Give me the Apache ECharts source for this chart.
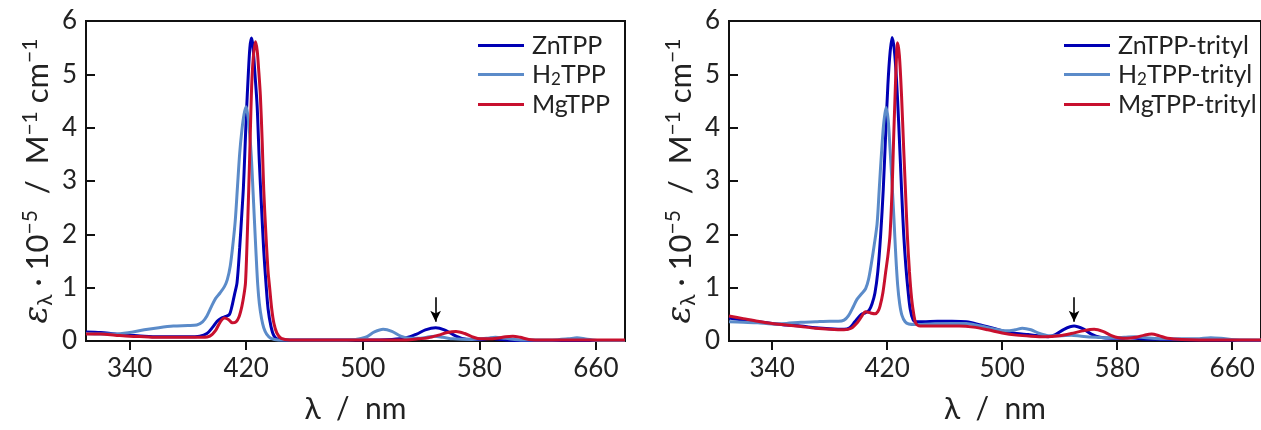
<!DOCTYPE html>
<html><head><meta charset="utf-8">
<script src="https://cdn.jsdelivr.net/npm/echarts@6/dist/echarts.min.js"></script>
<style>html,body{margin:0;padding:0;background:#fff}#c{width:1261px;height:430px}</style>
</head><body><div id="c"></div>
<script>
// ---- data ----
const xTicks = [340, 420, 500, 580, 660];
const xRange = [310, 680];
const yRange = [0, 6];
const arrowMark = [550, 0.82, 0.36];

const znTPP = [[310,0.17],[320,0.16],[330,0.13],[340,0.11],[350,0.09],[360,0.08],[370,0.08],[380,0.08],[388,0.09],[393,0.14],[397,0.26],[400,0.37],[403,0.43],[406,0.46],[408.5,0.5],[410,0.63],[412,0.88],[413.7,1.1],[415.5,1.75],[417,2.4],[418,2.85],[419,3.5],[420,4.2],[421.5,5.05],[422.5,5.5],[423.5,5.68],[424.5,5.55],[426,5.0],[427.5,4.4],[429,3.35],[430.5,2.5],[432,1.7],[433.5,1.1],[435,0.6],[437,0.27],[439,0.1],[442,0.03],[450,0.02],[480,0.02],[500,0.02],[520,0.03],[530,0.06],[537,0.13],[543,0.21],[550,0.25],[556,0.21],[562,0.12],[568,0.05],[575,0.03],[582,0.03],[588,0.05],[594,0.03],[605,0.01],[640,0.01],[680,0.01]];
const h2TPP = [[310,0.14],[320,0.13],[330,0.13],[340,0.16],[350,0.21],[360,0.25],[370,0.28],[380,0.29],[386,0.3],[390,0.36],[393,0.47],[396,0.64],[399,0.8],[402,0.9],[405,1.02],[407,1.15],[409,1.4],[411,1.85],[412.5,2.27],[414,2.9],[415.5,3.52],[417,3.95],[418.5,4.25],[419.9,4.39],[421,4.25],[422.3,3.9],[423.5,3.45],[424.5,2.9],[425.6,2.27],[426.8,1.6],[427.9,1.05],[429,0.7],[430.5,0.42],[432,0.25],[434,0.13],[437,0.05],[442,0.02],[480,0.02],[495,0.03],[502,0.07],[508,0.17],[514,0.22],[520,0.18],[526,0.09],[532,0.05],[538,0.05],[544,0.07],[549,0.09],[555,0.07],[562,0.04],[575,0.03],[585,0.05],[591,0.07],[598,0.05],[610,0.02],[630,0.02],[641,0.04],[647,0.06],[653,0.04],[662,0.01],[680,0.01]];
const mgTPP = [[310,0.13],[320,0.13],[330,0.11],[340,0.09],[350,0.08],[360,0.07],[370,0.07],[380,0.07],[390,0.07],[395,0.09],[399,0.2],[402,0.35],[405,0.43],[408,0.4],[410.5,0.34],[413,0.36],[415,0.45],[417,0.65],[418.5,0.88],[419.5,1.1],[420.5,1.8],[421.7,2.84],[422.7,3.8],[423.7,4.77],[424.8,5.3],[426.3,5.61],[427.5,5.45],[428.5,5.1],[429.7,4.6],[431,3.7],[432,2.84],[433.5,2.0],[435,1.3],[436,1.02],[437.5,0.6],[439,0.33],[441,0.15],[444,0.05],[450,0.02],[500,0.02],[530,0.02],[538,0.04],[545,0.06],[552,0.11],[558,0.16],[564,0.18],[570,0.14],[576,0.07],[581,0.04],[586,0.04],[592,0.05],[598,0.08],[603,0.09],[608,0.07],[614,0.03],[625,0.02],[650,0.02],[680,0.02]];

const znTrityl = [[310,0.43],[320,0.39],[330,0.36],[340,0.33],[350,0.3],[360,0.28],[370,0.25],[380,0.23],[390,0.22],[394,0.25],[397.5,0.36],[402,0.5],[405,0.53],[407.5,0.58],[409.5,0.7],[411.5,0.9],[413.5,1.3],[415.5,2.0],[417.3,2.85],[419,3.9],[420.5,4.8],[422,5.4],[423.5,5.69],[425,5.45],[426.5,4.9],[428,4.1],[430,2.84],[431.5,2.0],[433,1.4],[434.5,0.95],[436,0.6],[438,0.4],[440,0.36],[445,0.36],[455,0.37],[465,0.37],[475,0.36],[485,0.3],[495,0.23],[503,0.17],[510,0.14],[518,0.12],[525,0.1],[532,0.08],[537,0.12],[543,0.22],[550,0.28],[556,0.23],[562,0.13],[568,0.07],[576,0.05],[583,0.05],[589,0.06],[596,0.04],[610,0.03],[640,0.02],[680,0.01]];
const h2Trityl = [[310,0.36],[320,0.35],[330,0.34],[340,0.32],[350,0.33],[360,0.35],[370,0.36],[380,0.37],[386,0.37],[390,0.39],[393,0.47],[396,0.62],[399,0.78],[402,0.88],[405,0.98],[407,1.15],[409,1.45],[411,1.8],[413,2.2],[414.5,2.85],[416,3.5],[417.5,4.05],[419.2,4.38],[420.7,4.15],[422,3.6],[423.3,3.0],[424.7,2.3],[426,1.6],[427.3,1.05],[428.7,0.7],[430.3,0.48],[432.5,0.36],[435,0.32],[440,0.31],[450,0.32],[465,0.33],[475,0.33],[485,0.28],[495,0.22],[503,0.19],[509,0.21],[514,0.24],[520,0.21],[526,0.14],[532,0.1],[540,0.1],[548,0.11],[555,0.09],[565,0.07],[575,0.06],[585,0.07],[592,0.08],[600,0.06],[615,0.04],[635,0.04],[645,0.06],[652,0.05],[665,0.02],[680,0.02]];
const mgTrityl = [[310,0.47],[320,0.42],[330,0.37],[340,0.33],[350,0.3],[360,0.27],[370,0.24],[380,0.22],[390,0.21],[395,0.24],[399.7,0.36],[402.5,0.47],[404.7,0.55],[407,0.54],[409,0.52],[411.6,0.51],[413.5,0.55],[415,0.65],[417,0.9],[419,1.3],[420.5,1.6],[422,2.0],[423.5,2.9],[424.5,3.8],[425.5,4.6],[426.3,5.2],[427.2,5.59],[428.5,5.35],[430,4.6],[431.5,3.6],[432.7,2.84],[434,2.0],[435.5,1.3],[437,0.8],[438.5,0.5],[440,0.33],[443,0.28],[455,0.28],[470,0.28],[480,0.26],[490,0.21],[500,0.15],[510,0.11],[520,0.09],[530,0.08],[540,0.1],[548,0.14],[556,0.19],[564,0.22],[570,0.18],[576,0.1],[581,0.06],[587,0.05],[593,0.07],[599,0.11],[604,0.13],[609,0.1],[615,0.05],[625,0.03],[650,0.02],[680,0.02]];

const names1 = ['ZnTPP', 'H2TPP', 'MgTPP'];
const names2 = ['ZnTPP-trityl', 'H2TPP-trityl', 'MgTPP-trityl'];
const colors = ['#0000b4', '#5b8bc9', '#c8102e'];

// ---- chart ----
const F = 'Lato, "DejaVu Sans", sans-serif';
const TXT = '#222';
const chart = echarts.init(document.getElementById('c'), null, {renderer: 'canvas'});

function grid(left, width) {
  return {left: left, top: 21, width: width, height: 320, show: true,
    borderColor: '#111', borderWidth: 2, backgroundColor: 'transparent', containLabel: false};
}
function xAx(i) {
  return {gridIndex: i, type: 'value', min: xRange[0], max: xRange[1],
    axisLine: {show: true, onZero: false, lineStyle: {color: '#111', width: 2}},
    axisTick: {show: true, customValues: xTicks, length: 9, lineStyle: {color: '#111', width: 2}},
    axisLabel: {customValues: xTicks, margin: 15, fontSize: 26, color: TXT, fontFamily: F},
    splitLine: {show: false},
    name: 'λ  /  nm', nameLocation: 'middle', nameGap: 53,
    nameTextStyle: {fontSize: 30, color: TXT, fontFamily: F}};
}
function yAx(i) {
  return {gridIndex: i, type: 'value', min: yRange[0], max: yRange[1], interval: 1,
    axisLine: {show: true, lineStyle: {color: '#111', width: 2}},
    axisTick: {show: true, inside: true, length: 9, lineStyle: {color: '#111', width: 2}},
    axisLabel: {margin: 9, fontSize: 26, color: TXT, fontFamily: F},
    splitLine: {show: false},
    name: '{e|ε}{sl|λ}{m| · 10}{su|−5}{m|  /  M}{su|−1}{m| cm}{su|−1}',
    nameLocation: 'middle', nameGap: 30, nameRotate: 90,
    nameTextStyle: {fontSize: 31, color: TXT, fontFamily: F,
      rich: {
        e: {fontSize: 33, fontStyle: 'italic', fontFamily: '"DejaVu Serif", serif', color: TXT, lineHeight: 36},
        m: {fontSize: 31, fontFamily: F, color: TXT, lineHeight: 36},
        sl: {fontSize: 21, fontFamily: F, color: TXT, lineHeight: 22, verticalAlign: 'bottom'},
        su: {fontSize: 21, fontFamily: F, color: TXT, lineHeight: 12, verticalAlign: 'top'}
      }}};
}
function legendFmt(name) {
  if (name.indexOf('H2') === 0) return '{m|H}{s|2}{m|' + name.slice(2) + '}';
  return '{m|' + name + '}';
}
function legend(i, left, names) {
  return {orient: 'vertical', left: left, top: 28, itemGap: 4, itemWidth: 46, itemHeight: 3,
    icon: 'rect', data: names, formatter: legendFmt, selectedMode: false,
    textStyle: {color: TXT, fontSize: 25, fontFamily: F, padding: [0, 0, 0, 3],
      rich: {m: {fontSize: 25, fontFamily: F, color: TXT, lineHeight: 27},
             s: {fontSize: 17, fontFamily: F, color: TXT, lineHeight: 14, verticalAlign: 'bottom'}}}};
}
function arrow() {
  return {silent: true, symbol: ['none', 'arrow'], symbolSize: [8, 11], animation: false,
    lineStyle: {color: '#000', width: 1.6, type: 'solid'}, label: {show: false},
    data: [[{coord: [arrowMark[0], arrowMark[1]]}, {coord: [arrowMark[0], arrowMark[2]]}]]};
}
function ser(name, data, ci, gi, withArrow) {
  const s = {name: name, type: 'line', xAxisIndex: gi, yAxisIndex: gi, data: data,
    showSymbol: false, smooth: 0.3, color: colors[ci],
    lineStyle: {width: 3, color: colors[ci]}};
  if (withArrow) s.markLine = arrow();
  return s;
}

chart.setOption({
  animation: false,
  backgroundColor: '#fff',
  grid: [grid(86, 539), grid(729, 538)],
  xAxis: [xAx(0), xAx(1)],
  yAxis: [yAx(0), yAx(1)],
  legend: [legend(0, 473, names1), legend(1, 1059, names2)],
  series: [
    ser(names1[0], znTPP, 0, 0, true),
    ser(names1[1], h2TPP, 1, 0, false),
    ser(names1[2], mgTPP, 2, 0, false),
    ser(names2[0], znTrityl, 0, 1, true),
    ser(names2[1], h2Trityl, 1, 1, false),
    ser(names2[2], mgTrityl, 2, 1, false)
  ]
});
</script></body></html>
